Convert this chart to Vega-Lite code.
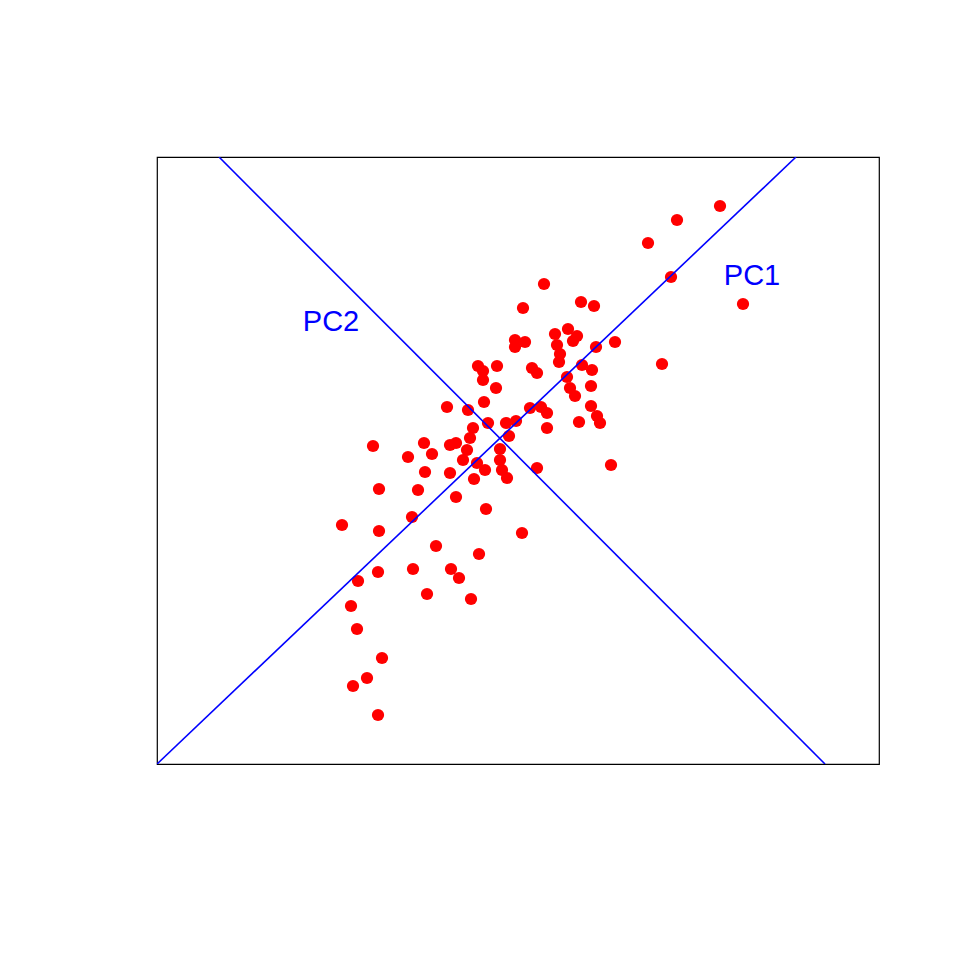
{
  "$schema": "https://vega.github.io/schema/vega-lite/v6.json",
  "width": 722,
  "height": 607,
  "autosize": "none",
  "padding": {"left": 157, "top": 157, "right": 81, "bottom": 196},
  "background": "white",
  "config": {"view": {"stroke": "black", "strokeWidth": 1.2}},
  "datasets": {
    "pts": [
      {"x":2.02,"y":2.545},{"x":1.59,"y":2.405},{"x":1.30,"y":2.175},{"x":1.53,"y":1.835},{"x":2.25,"y":1.565},
      {"x":0.26,"y":1.765},{"x":0.63,"y":1.585},{"x":0.76,"y":1.545},{"x":0.05,"y":1.525},
      {"x":0.37,"y":1.265},{"x":0.50,"y":1.315},{"x":0.59,"y":1.245},{"x":0.55,"y":1.195},{"x":0.39,"y":1.155},{"x":0.42,"y":1.065},{"x":0.41,"y":0.985},
      {"x":-0.03,"y":1.205},{"x":0.07,"y":1.185},{"x":-0.03,"y":1.135},{"x":0.78,"y":1.135},{"x":0.97,"y":1.185},
      {"x":-0.40,"y":0.945},{"x":-0.35,"y":0.895},{"x":-0.21,"y":0.945},{"x":-0.35,"y":0.805},{"x":-0.22,"y":0.725},
      {"x":0.14,"y":0.925},{"x":0.19,"y":0.875},{"x":0.64,"y":0.955},{"x":0.74,"y":0.905},{"x":1.44,"y":0.965},{"x":0.49,"y":0.835},
      {"x":0.52,"y":0.725},{"x":0.57,"y":0.645},{"x":0.73,"y":0.745},{"x":-0.34,"y":0.585},{"x":-0.71,"y":0.535},{"x":-0.50,"y":0.505},
      {"x":0.12,"y":0.525},{"x":0.23,"y":0.535},{"x":0.29,"y":0.475},{"x":0.73,"y":0.545},{"x":0.79,"y":0.445},{"x":0.82,"y":0.375},{"x":0.61,"y":0.385},{"x":0.29,"y":0.325},
      {"x":-0.12,"y":0.375},{"x":-0.02,"y":0.395},{"x":-0.30,"y":0.375},{"x":-0.09,"y":0.245},{"x":-0.45,"y":0.325},{"x":-0.48,"y":0.225},
      {"x":-0.68,"y":0.155},{"x":-0.62,"y":0.175},{"x":-0.94,"y":0.175},{"x":-1.45,"y":0.145},{"x":-1.10,"y":0.035},{"x":-0.86,"y":0.065},{"x":-0.51,"y":0.105},{"x":-0.55,"y":0.005},{"x":-0.41,"y":-0.025},{"x":-0.33,"y":-0.095},{"x":-0.18,"y":0.115},{"x":-0.18,"y":0.005},{"x":-0.16,"y":-0.095},{"x":-0.11,"y":-0.175},{"x":-0.93,"y":-0.115},{"x":-0.68,"y":-0.125},{"x":-0.44,"y":-0.185},{"x":0.19,"y":-0.075},{"x":0.93,"y":-0.045},
      {"x":-1.39,"y":-0.285},{"x":-1.00,"y":-0.295},{"x":-0.62,"y":-0.365},{"x":-0.32,"y":-0.485},{"x":-1.06,"y":-0.565},{"x":-1.76,"y":-0.645},{"x":-1.39,"y":-0.705},{"x":0.04,"y":-0.725},{"x":-0.82,"y":-0.855},{"x":-0.39,"y":-0.935},
      {"x":-1.60,"y":-1.205},{"x":-1.40,"y":-1.115},{"x":-1.05,"y":-1.085},{"x":-0.67,"y":-1.085},{"x":-0.59,"y":-1.175},{"x":-0.91,"y":-1.335},{"x":-0.47,"y":-1.385},
      {"x":-1.67,"y":-1.455},{"x":-1.61,"y":-1.685},{"x":-1.36,"y":-1.975},{"x":-1.51,"y":-2.175},{"x":-1.65,"y":-2.255},{"x":-1.40,"y":-2.545}
    ],
    "lines": [
      {"pc":"PC1","o":1,"x":-3.61,"y":-3.035},{"pc":"PC1","o":2,"x":2.78,"y":3.035},
      {"pc":"PC2","o":1,"x":-2.99,"y":3.035},{"pc":"PC2","o":2,"x":3.07,"y":-3.035}
    ],
    "labels": [
      {"t":"PC1","x":2.34,"y":1.845},
      {"t":"PC2","x":-1.87,"y":1.385}
    ]
  },
  "encoding": {
    "x": {"field":"x","type":"quantitative","scale":{"domain":[-3.61,3.61],"nice":false,"zero":false},"axis":null},
    "y": {"field":"y","type":"quantitative","scale":{"domain":[-3.035,3.035],"nice":false,"zero":false},"axis":null}
  },
  "layer": [
    {
      "data": {"name":"pts"},
      "mark": {"type":"circle","color":"#ff0000","opacity":1,"size":150}
    },
    {
      "data": {"name":"lines"},
      "mark": {"type":"line","color":"#0000ff","strokeWidth":1.6,"clip":true},
      "encoding": {"detail":{"field":"pc"},"order":{"field":"o","type":"quantitative"}}
    },
    {
      "data": {"name":"labels"},
      "mark": {"type":"text","color":"#0000ff","font":"Liberation Sans","fontSize":29,"align":"center","baseline":"middle"},
      "encoding": {"text":{"field":"t"}}
    }
  ]
}
